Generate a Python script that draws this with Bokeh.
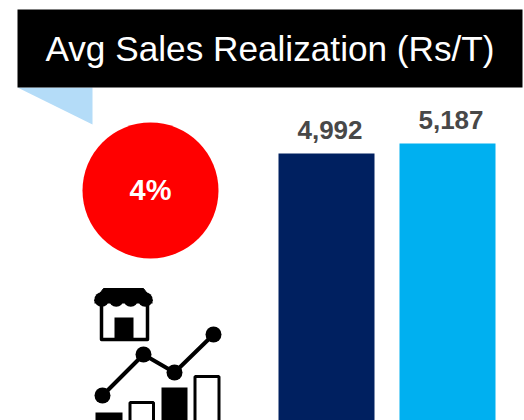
from bokeh.embed import file_html
from bokeh.resources import INLINE
from bokeh.plotting import figure
from bokeh.models import Range1d
from bokeh.core.properties import value

title_text = "Avg Sales Realization (Rs/T)"
change_label = "4%"
bar_values = [4992, 5187]
bar_labels = ["4,992", "5,187"]
bar_colors = ["#002060", "#00B0F0"]

FONT = value("Liberation Sans")
px_per_bar = 121.0
val_per_px = 19.5

p = figure(width=524, height=420, output_backend="svg", toolbar_location=None,
           x_axis_type=None, y_axis_type=None, min_border=0,
           x_range=Range1d(0, 524), y_range=Range1d(420, 0),
           outline_line_color=None, background_fill_color="white")
p.grid.visible = False
p.extra_x_ranges = {"cat": Range1d((0 - 326) / px_per_bar, (524 - 326) / px_per_bar)}
p.extra_y_ranges = {"val": Range1d(4992 - (420 - 153) * val_per_px, 4992 + 153 * val_per_px)}

# header and callout
p.patch([17, 92, 92], [87, 87, 124], fill_color="#B4DCF8", line_color=None)
p.quad(left=17, right=522, top=9, bottom=87, fill_color="black", line_color=None)
p.text([269.5], [48], text=[title_text], text_color="white", text_font=FONT,
       text_font_size="35.2px", text_align="center", text_baseline="middle")

# badge
p.circle([150], [190], radius=68, fill_color="#FF0000", line_color=None)
p.text([150], [189], text=[change_label], text_color="white", text_font=FONT,
       text_font_style="bold", text_font_size="29px", text_align="center", text_baseline="middle")

# bars
xs = list(range(len(bar_values)))
p.vbar(x=xs, top=bar_values, bottom=-1000, width=96 / px_per_bar, fill_color=bar_colors,
       line_color=None, x_range_name="cat", y_range_name="val")
p.text(x=xs, y=bar_values, text=bar_labels, x_offset=3.5, y_offset=-15,
       text_color="#484848", text_font=FONT, text_font_style="bold", text_font_size="26px",
       text_align="center", text_baseline="bottom", x_range_name="cat", y_range_name="val")

# store icon
p.patch([103, 143, 152, 94], [288, 288, 300, 300], fill_color="black", line_color="black", line_width=1)
p.quad(left=94, right=152, top=299, bottom=303, fill_color="black", line_color=None)
p.circle([101.25, 115.75, 130.25, 144.75], [299] * 4, radius=7.25, fill_color="black", line_color=None)
p.multi_line([[101, 101, 147, 147]], [[304, 339, 339, 304]], line_color="black", line_width=3.5,
             line_join="round")
p.quad(left=114, right=133, top=317, bottom=338, fill_color="black", line_color=None)

# trend icon
tx = [102, 143, 174, 213]
ty = [395, 354, 372, 334]
p.line(tx, ty, line_color="black", line_width=4)
p.circle(tx, ty, radius=8, fill_color="black", line_color=None)
p.quad(left=[95, 161], right=[122, 187], top=[412, 387], bottom=[425, 425], fill_color="black", line_color=None)
p.quad(left=[129.5, 194.5], right=[153, 218.5], top=[402, 376], bottom=[425, 425], fill_color="white",
       line_color="black", line_width=3)

open("out.html", "w").write(file_html(p, INLINE))
